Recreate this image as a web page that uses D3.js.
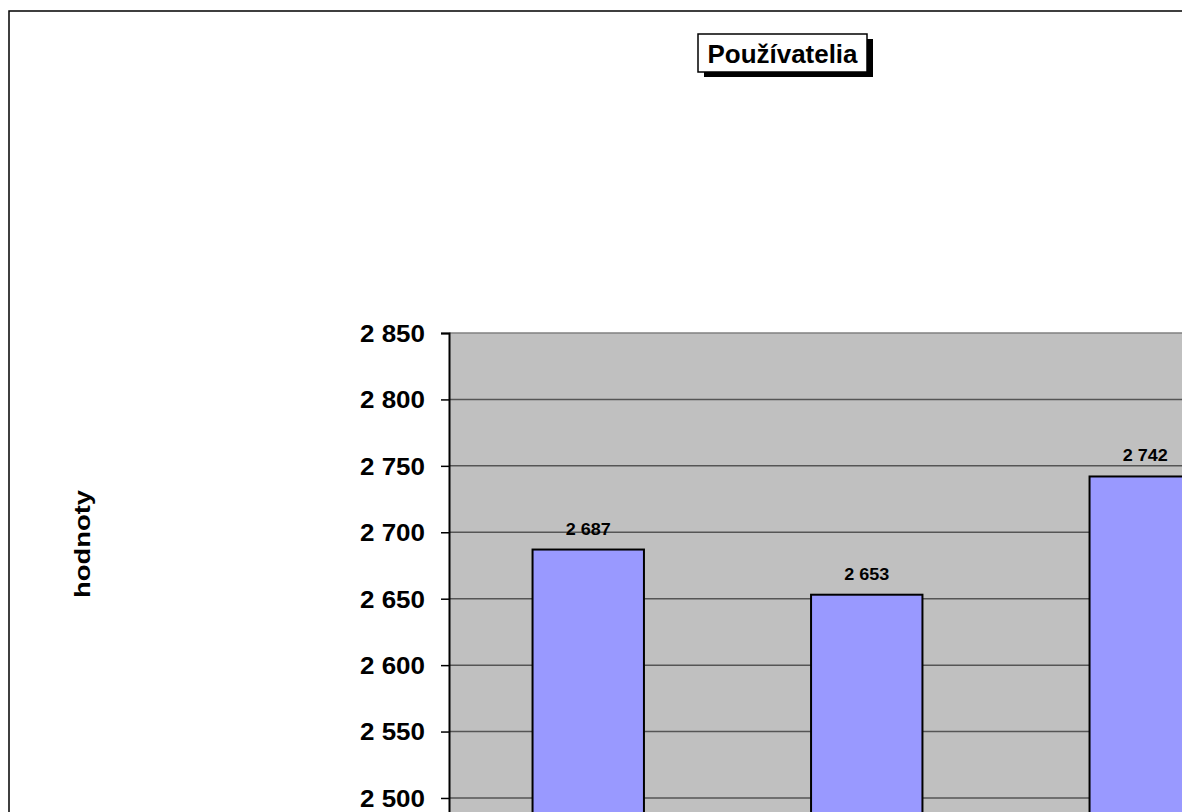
<!DOCTYPE html>
<html>
<head>
<meta charset="utf-8">
<script src="https://cdn.jsdelivr.net/npm/d3@7"></script>
<style>
  html, body { margin: 0; padding: 0; background: #fff; overflow: hidden; }
  svg { display: block; font-family: "Liberation Sans", Arial, sans-serif; }
</style>
</head>
<body>
<script>
// ---- data ----
const title = "Používatelia";
const yAxisTitle = "hodnoty";
const categories = ["1", "2", "3"];
const values = [2687, 2653, 2742];
const yTicks = [2500, 2550, 2600, 2650, 2700, 2750, 2800, 2850];

const W = 1182, H = 812;
const svg = d3.select("body").append("svg").attr("width", W).attr("height", H);

// outer chart border (extends past viewport)
svg.append("rect").attr("x", 9).attr("y", 11).attr("width", 1400).attr("height", 1200)
  .attr("fill", "#fff").attr("stroke", "#000").attr("stroke-width", 1.5);

const plotLeft = 449, plotTop = 333;
const y = d3.scaleLinear().domain([2450, 2850]).range([864.4, plotTop]);
const x = d3.scaleBand().domain(categories).range([plotLeft, plotLeft + 3 * 278.5])
  .paddingInner(0.6).paddingOuter(0.3);

// plot background
svg.append("rect").attr("x", plotLeft).attr("y", plotTop)
  .attr("width", 1400).attr("height", 1000).attr("fill", "#C0C0C0");

// gridlines
svg.append("g").selectAll("line").data(yTicks).join("line")
  .attr("x1", plotLeft).attr("x2", W + 10)
  .attr("y1", d => y(d)).attr("y2", d => y(d))
  .attr("stroke", d => d === 2850 ? "#808080" : "#555").attr("stroke-width", 1.5);

// bars
svg.append("g").selectAll("rect").data(values).join("rect")
  .attr("x", (d, i) => x(categories[i]))
  .attr("y", d => y(d))
  .attr("width", x.bandwidth())
  .attr("height", d => y(2450) - y(d) + 200)
  .attr("fill", "#9999FF").attr("stroke", "#000").attr("stroke-width", 2);

// data labels
svg.append("g").selectAll("text").data(values).join("text")
  .attr("x", (d, i) => x(categories[i]) + x.bandwidth() / 2)
  .attr("y", d => y(d) - 15)
  .attr("text-anchor", "middle")
  .attr("font-size", 16).attr("font-weight", "bold").attr("fill", "#000")
  .attr("textLength", 45).attr("lengthAdjust", "spacingAndGlyphs")
  .text(d => d3.format(",")(d).replace(/,/g, " "));

// y axis
const yAxis = d3.axisLeft(y).tickValues(yTicks).tickSize(8).tickPadding(16)
  .tickFormat(d => d3.format(",")(d).replace(/,/g, " "));
const gAxis = svg.append("g").attr("transform", `translate(${plotLeft},0)`).call(yAxis);
gAxis.select(".domain").attr("stroke", "#000").attr("stroke-width", 2);
gAxis.selectAll(".tick line").attr("stroke", "#000").attr("stroke-width", 1.5);
gAxis.selectAll(".tick text")
  .attr("font-family", "Liberation Sans, Arial, sans-serif")
  .attr("font-size", 24).attr("font-weight", "bold").attr("fill", "#000")
  .attr("dy", "0.35em")
  .attr("textLength", 65).attr("lengthAdjust", "spacingAndGlyphs");

// y axis title
svg.append("text")
  .attr("transform", "translate(90,544) rotate(-90)")
  .attr("text-anchor", "middle")
  .attr("font-size", 22).attr("font-weight", "bold").attr("fill", "#000")
  .attr("textLength", 108).attr("lengthAdjust", "spacingAndGlyphs")
  .text(yAxisTitle);

// title box with shadow
const tb = { x: 698, y: 34, w: 169, h: 38 };
svg.append("rect").attr("x", tb.x + 6).attr("y", tb.y + 5).attr("width", tb.w).attr("height", tb.h)
  .attr("fill", "#000");
svg.append("rect").attr("x", tb.x).attr("y", tb.y).attr("width", tb.w).attr("height", tb.h)
  .attr("fill", "#fff").attr("stroke", "#000").attr("stroke-width", 1.5);
svg.append("text").attr("x", tb.x + tb.w / 2).attr("y", 63)
  .attr("text-anchor", "middle")
  .attr("font-size", 25).attr("font-weight", "bold").attr("fill", "#000")
  .attr("textLength", 150).attr("lengthAdjust", "spacingAndGlyphs")
  .text(title);
</script>
</body>
</html>
